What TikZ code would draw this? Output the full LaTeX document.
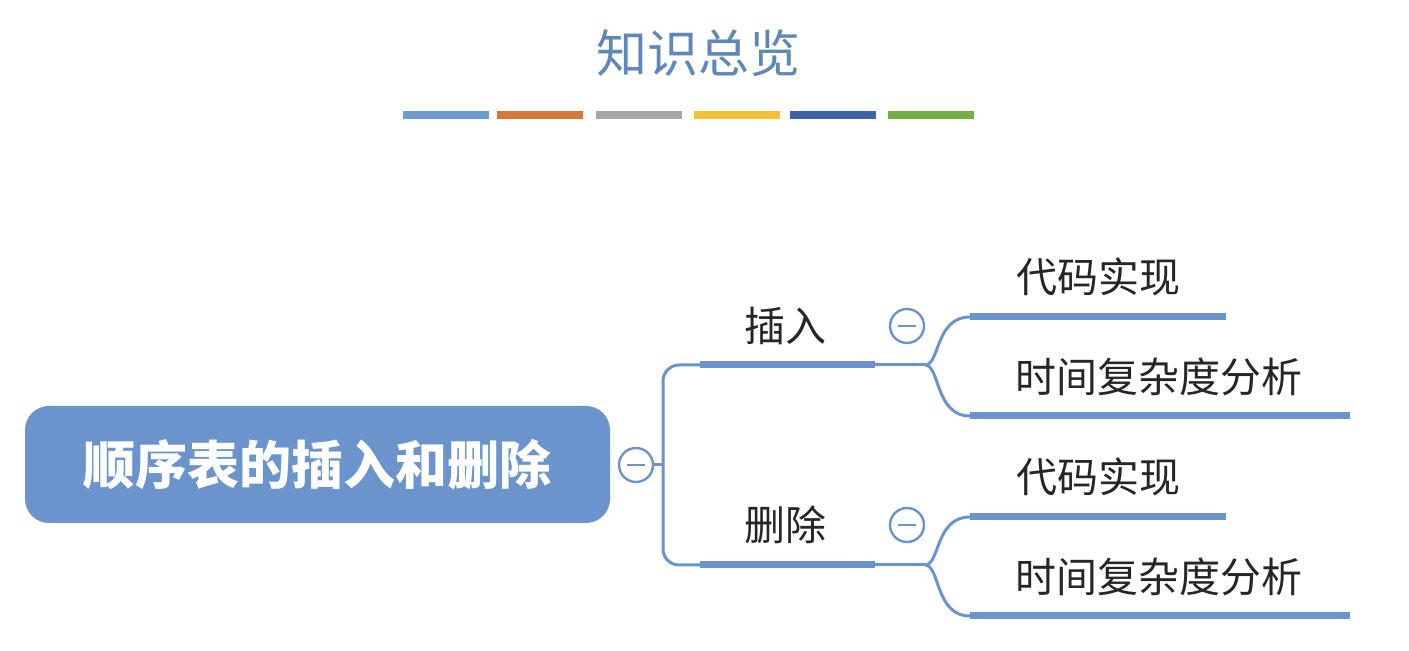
\documentclass[tikz,border=0pt]{standalone}
\usepackage{fontspec}
\newfontfamily\cjk{Noto Sans CJK SC}
\definecolor{mb}{HTML}{6B93CC}
\definecolor{tt}{HTML}{5F88B8}
\begin{document}
\begin{tikzpicture}[x=0.5pt,y=-0.5pt,
  ln/.style={draw=mb,line width=1.5pt},
  bar/.style={draw=mb,line width=3.5pt},
  mc/.style={circle,draw=mb,line width=1.2pt,fill=white,minimum size=17pt,inner sep=0pt},
  lab/.style={font=\cjk\fontsize{20.5}{24}\selectfont,text=black!85}]
\useasboundingbox (0,0) rectangle (1409,651);
\node[font=\cjk\fontsize{25.5}{28}\selectfont,text=tt] (title) at (698,53) {知识总览};
\foreach \a/\c in {403/6F9BD0,497/D9773A,596/A6A6A6,694/F2C232,790/3F63A8,888/72B043}{
  \definecolor{tmp}{HTML}{\c}
  \fill[tmp] (\a,111) rectangle (\a+86,119);}
\node[fill=mb,rounded corners=12pt,minimum width=292.5pt,minimum height=58.5pt,
  font=\cjk\bfseries\fontsize{26}{30}\selectfont,text=white] (root) at (317.5,464.5) {顺序表的插入和删除};
\node[mc] (c0) at (636,465) {};
\draw[ln] (c0.east) -- (663,465);
\draw[ln,rounded corners=8pt] (700,365) -- (663,365) -- (663,565) -- (700,565);
\coordinate (i1) at (700,365); \coordinate (i2) at (875,365);
\coordinate (d1) at (700,565); \coordinate (d2) at (875,565);
\draw[bar] (i1) -- (i2); \draw[bar] (d1) -- (d2);
\node[lab] (ins) at (785,326) {插入};
\node[lab] (del) at (785,525) {删除};
\node[mc] (c1) at (907,326) {};
\node[mc] (c2) at (907,525) {};
\foreach \y/\n in {365/a,565/b}{
  \draw[ln] (875,\y) -- (925,\y);
  \draw[ln] (925,\y) .. controls (940,\y) and (935,\y-48) .. (970,\y-48);
  \draw[ln] (925,\y) .. controls (940,\y) and (935,\y+51) .. (970,\y+51);
  \draw[bar] (970,\y-48) -- (1226,\y-48);
  \draw[bar] (970,\y+51) -- (1350,\y+51);
}
\node[lab] (a1) at (1098,277) {代码实现};
\node[lab] (a2) at (1159,377) {时间复杂度分析};
\node[lab] (b1) at (1098,477) {代码实现};
\node[lab] (b2) at (1159,577) {时间复杂度分析};
\foreach \c in {c0,c1,c2} \draw[mb,line width=1.2pt] ([xshift=-4.5pt]\c.center) -- ([xshift=4.5pt]\c.center);
\end{tikzpicture}
\end{document}
